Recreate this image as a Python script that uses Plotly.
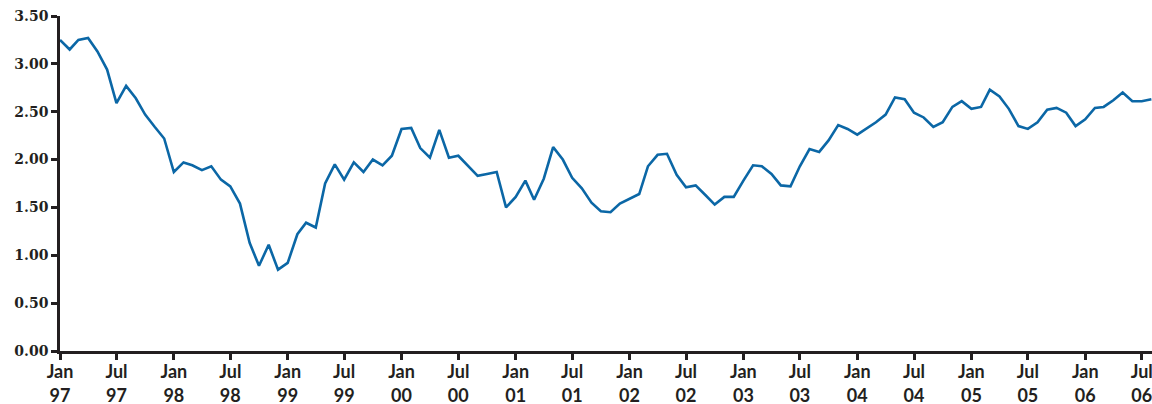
import plotly.graph_objects as go
import pandas as pd

months = pd.date_range("1997-01-01", "2006-08-01", freq="MS")

values = [
    3.25, 3.15, 3.25, 3.27, 3.13, 2.94, 2.59, 2.77, 2.64, 2.47, 2.34, 2.22,  # 1997
    1.87, 1.97, 1.94, 1.89, 1.93, 1.79, 1.72, 1.54, 1.13, 0.89, 1.11, 0.85,  # 1998
    0.92, 1.22, 1.34, 1.29, 1.75, 1.95, 1.79, 1.97, 1.87, 2.00, 1.94, 2.04,  # 1999
    2.32, 2.33, 2.12, 2.02, 2.31, 2.02, 2.04, 1.94, 1.83, 1.85, 1.87, 1.50,  # 2000
    1.61, 1.78, 1.58, 1.80, 2.13, 2.00, 1.81, 1.70, 1.55, 1.46, 1.45, 1.54,  # 2001
    1.59, 1.64, 1.93, 2.05, 2.06, 1.84, 1.71, 1.73, 1.63, 1.53, 1.61, 1.61,  # 2002
    1.78, 1.94, 1.93, 1.85, 1.73, 1.72, 1.93, 2.11, 2.08, 2.20, 2.36, 2.32,  # 2003
    2.26, 2.33, 2.39, 2.47, 2.65, 2.63, 2.49, 2.44, 2.34, 2.39, 2.55, 2.61,  # 2004
    2.53, 2.55, 2.73, 2.66, 2.53, 2.35, 2.32, 2.39, 2.52, 2.54, 2.49, 2.35,  # 2005
    2.42, 2.54, 2.55, 2.62, 2.70, 2.61, 2.61, 2.63,                          # 2006
]

tick_dates = pd.date_range("1997-01-01", "2006-07-01", freq="6MS")
tick_labels = [f"{d.strftime('%b')}<br>{d.strftime('%y')}" for d in tick_dates]

y_ticks = [0, 0.5, 1.0, 1.5, 2.0, 2.5, 3.0, 3.5]
y_labels = [f"{v:.2f}" for v in y_ticks]

axis_color = "#231f20"

fig = go.Figure(
    go.Scatter(
        x=months,
        y=values,
        mode="lines",
        line=dict(color="#0b67a6", width=2.6),
        cliponaxis=True,
        hoverinfo="skip",
    )
)

fig.update_layout(
    width=1152,
    height=404,
    margin=dict(l=60, r=0, t=16, b=53),
    paper_bgcolor="white",
    plot_bgcolor="white",
    showlegend=False,
)

fig.update_xaxes(
    type="date",
    range=["1997-01-01", "2006-08-03"],
    tickmode="array",
    tickvals=tick_dates,
    ticktext=tick_labels,
    showgrid=False,
    zeroline=False,
    showline=True,
    linecolor=axis_color,
    linewidth=2.5,
    ticks="outside",
    ticklen=6,
    tickwidth=2.5,
    tickcolor=axis_color,
    ticklabelstandoff=-3,
    ticklabeloverflow="allow",
    automargin=False,
    tickfont=dict(family="Lato", size=18, color=axis_color, weight="bold"),
)

fig.update_yaxes(
    range=[0, 3.5],
    tickmode="array",
    tickvals=y_ticks,
    ticktext=y_labels,
    showgrid=False,
    zeroline=False,
    showline=True,
    linecolor=axis_color,
    linewidth=2.5,
    ticks="outside",
    ticklen=6,
    tickwidth=2.5,
    tickcolor=axis_color,
    automargin=False,
    tickfont=dict(family="DejaVu Serif", size=14, color=axis_color, weight="bold"),
)

fig.write_html(
    "out.html",
    config={"displayModeBar": False},
    post_script="document.body.style.margin='0';document.body.style.overflow='hidden';",
)
